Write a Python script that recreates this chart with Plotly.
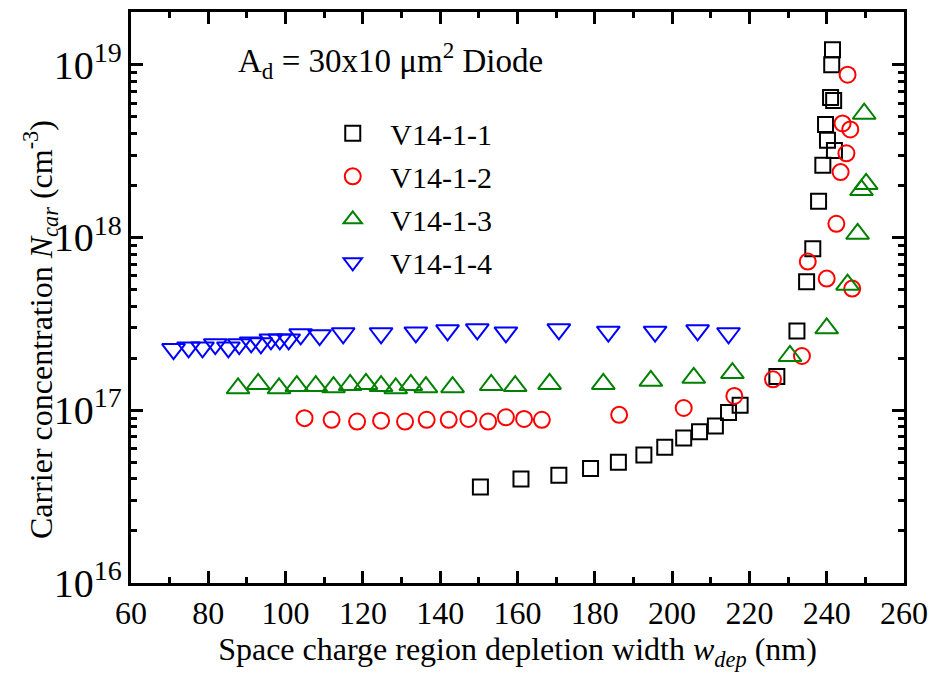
import plotly.graph_objects as go

# ---- data ----
names = ["V14-1-1", "V14-1-2", "V14-1-3", "V14-1-4"]

w1 = [150.4, 160.9, 170.7, 178.9, 186.1, 192.7, 198.1, 203.0, 207.1, 211.2, 214.6, 217.6,
      227.1, 232.3, 234.8, 236.4, 237.9, 239.0, 242.0, 240.2, 239.7, 241.8, 241.0, 241.3, 241.5]
n1 = [3.6e16, 4.0e16, 4.2e16, 4.6e16, 5.0e16, 5.5e16, 6.1e16, 6.9e16, 7.5e16, 8.1e16, 9.7e16, 1.07e17,
      1.57e17, 2.87e17, 5.55e17, 8.6e17, 1.62e18, 2.62e18, 3.19e18, 3.65e18, 4.5e18, 6.2e18, 6.45e18,
      1.0e19, 1.22e19]

w2 = [104.9, 111.9, 118.5, 124.7, 130.9, 136.5, 142.2, 147.3, 152.4, 157.0, 161.7, 166.3,
      186.3, 203.0, 216.1, 226.1, 233.6, 235.1, 240.0, 242.5, 243.6, 245.1, 246.1, 244.1, 245.4, 246.6]
n2 = [9.0e16, 8.8e16, 8.6e16, 8.7e16, 8.6e16, 8.8e16, 8.8e16, 8.9e16, 8.6e16, 9.1e16, 8.9e16, 8.8e16,
      9.4e16, 1.03e17, 1.21e17, 1.51e17, 2.06e17, 7.25e17, 5.78e17, 1.2e18, 2.39e18, 3.07e18, 4.22e18,
      4.57e18, 8.75e18, 5.06e17]

w3 = [87.7, 92.9, 98.3, 102.9, 107.8, 112.4, 116.7, 120.8, 124.7, 128.5, 132.4, 136.3, 143.2,
      153.2, 159.4, 168.3, 182.2, 194.5, 205.6, 215.6, 230.5, 240.0, 245.4, 248.0, 249.0, 250.2, 249.7]
n3 = [1.34e17, 1.42e17, 1.34e17, 1.38e17, 1.38e17, 1.36e17, 1.40e17, 1.42e17, 1.38e17, 1.34e17,
      1.40e17, 1.36e17, 1.36e17, 1.40e17, 1.38e17, 1.42e17, 1.42e17, 1.48e17, 1.54e17, 1.64e17,
      2.06e17, 2.98e17, 5.33e17, 1.05e18, 1.88e18, 2.04e18, 5.2e18]

w4 = [71.0, 74.9, 78.5, 81.8, 85.2, 88.0, 91.1, 93.6, 96.2, 98.5, 100.8, 103.9, 108.8, 114.9,
      124.7, 133.7, 141.9, 149.6, 157.0, 170.7, 183.5, 195.6, 206.6, 214.6]
n4 = [2.26e17, 2.31e17, 2.31e17, 2.41e17, 2.31e17, 2.41e17, 2.47e17, 2.44e17, 2.57e17, 2.57e17,
      2.57e17, 2.75e17, 2.72e17, 2.79e17, 2.79e17, 2.82e17, 2.90e17, 2.94e17, 2.82e17, 2.94e17,
      2.85e17, 2.85e17, 2.90e17, 2.79e17]

xs = [w1, w2, w3, w4]
ys = [n1, n2, n3, n4]
colors = ["black", "red", "green", "blue"]
symbols = ["square-open", "circle-open", "triangle-up-open", "triangle-down-open"]
sizes = [15, 16, 20, 20]

FONT = "Liberation Serif"

fig = go.Figure()
for i in range(4):
    fig.add_trace(go.Scatter(
        x=xs[i], y=ys[i], mode="markers", name="\u2002\u200a" + names[i], legendgroup=names[i],
        marker=dict(symbol=symbols[i], size=sizes[i], color=colors[i],
                    line=dict(width=2, color=colors[i])),
    ))

axis_common = dict(
    showline=True, linecolor="black", linewidth=2.5, mirror="allticks",
    ticks="inside", tickcolor="black", tickwidth=2.5, ticklen=12,
    showgrid=False, zeroline=False,
    tickfont=dict(family=FONT, size=32, color="black"),
)

fig.update_xaxes(
    range=[60, 260], dtick=20, tick0=60,
    minor=dict(ticks="inside", ticklen=6, tickwidth=2.5, tickcolor="black", dtick=10, showgrid=False),
    title=dict(text="Space charge region depletion width <i>w</i><sub><i>dep</i></sub> (nm)",
               font=dict(family=FONT, size=32, color="black"), standoff=6),
    **axis_common,
)
fig.update_yaxes(
    type="log", range=[16, 19.305], dtick=1, exponentformat="power",
    minor=dict(ticks="inside", ticklen=6, tickwidth=2.5, tickcolor="black", dtick="D1", showgrid=False),
    **axis_common,
)

# y-axis title (placed as a rotated annotation to match the reference's vertical offset)
fig.add_annotation(
    xref="paper", yref="paper", x=-0.117, y=0.444, xanchor="center", yanchor="middle",
    text="Carrier concentration <i>N</i><sub><i>car</i></sub> (cm<sup>-3</sup>)",
    textangle=-90, showarrow=False,
    font=dict(family=FONT, size=32, color="black"),
)

fig.add_annotation(
    xref="paper", yref="paper", x=0.136, y=0.915, xanchor="left", yanchor="middle",
    text="A<sub>d</sub> = 30x10 μm<sup>2</sup> Diode", showarrow=False,
    font=dict(family=FONT, size=33, color="black"),
)

fig.update_layout(
    width=937, height=679,
    margin=dict(l=131, r=27, t=9, b=96),
    paper_bgcolor="white", plot_bgcolor="white",
    showlegend=True,
    legend=dict(x=0.261, y=0.833, xanchor="left", yanchor="top",
                font=dict(family=FONT, size=30, color="black"),
                bgcolor="rgba(0,0,0,0)", tracegroupgap=1, itemsizing="trace"),
)

fig.write_html("out.html")
